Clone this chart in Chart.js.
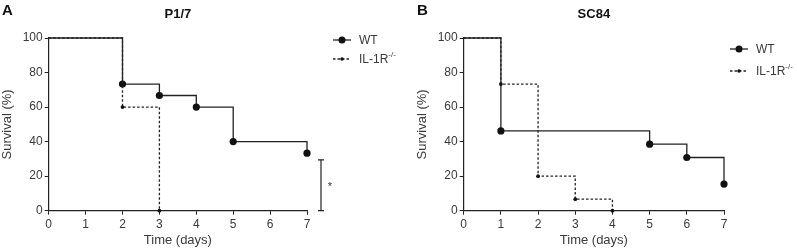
<!DOCTYPE html>
<html>
<head>
<meta charset="utf-8">
<script src="https://cdn.jsdelivr.net/npm/chart.js@4.4.1/dist/chart.umd.min.js"></script>
<style>
  body { margin: 0; background: #fff; }
  .panel { position: absolute; top: 0; height: 251px; }
</style>
</head>
<body>
<div class="panel" style="left:0;width:400px"><canvas id="chartA"></canvas></div>
<div class="panel" style="left:400px;width:397px"><canvas id="chartB"></canvas></div>
<script>
// Kaplan-Meier survival, %
var seriesNames = ["WT", "IL-1R"];

// panel A - P1/7
var p17WtDays = [0, 2, 3, 4, 5, 7];
var p17WtSurv = [100, 73.3, 66.7, 60, 40, 33.3];
var p17KoDays = [0, 2, 3];
var p17KoSurv = [100, 60, 0];

// panel B - SC84
var sc84WtDays = [0, 1, 5, 6, 7];
var sc84WtSurv = [100, 46.2, 38.5, 30.8, 15.4];
var sc84KoDays = [0, 1, 2, 3, 4];
var sc84KoSurv = [100, 73.3, 20, 6.7, 0];

var FONT = "'Liberation Sans', Arial, sans-serif";
var INK = "#222";
var TXT = "#3a3a3a";

function pts(xs, ys) {
  var out = [];
  for (var i = 0; i < xs.length; i++) out.push({x: xs[i], y: ys[i]});
  return out;
}

// titles, panel letters, legend and the significance bar
var decoPlugin = {
  id: "deco",
  afterDraw: function(chart, args, o) {
    var ctx = chart.ctx, area = chart.chartArea;
    ctx.save();
    ctx.fillStyle = "#111";
    ctx.textBaseline = "alphabetic";
    ctx.font = "bold 15px " + FONT;
    ctx.textAlign = "left";
    ctx.fillText(o.letter, o.letterX, 15);
    ctx.font = "bold 13px " + FONT;
    ctx.textAlign = "center";
    ctx.fillText(o.title, (area.left + area.right) / 2, 18);

    // legend
    var rows = [{solid: true, r: 3.5}, {solid: false, r: 1.8}];
    for (var i = 0; i < 2; i++) {
      var y = o.legY[i];
      ctx.strokeStyle = INK;
      ctx.lineWidth = 1.3;
      ctx.setLineDash(rows[i].solid ? [] : [2.5, 2]);
      ctx.beginPath();
      ctx.moveTo(o.legX, y);
      ctx.lineTo(o.legX + 18, y);
      ctx.stroke();
      ctx.setLineDash([]);
      ctx.fillStyle = "#111";
      ctx.beginPath();
      ctx.arc(o.legX + 9, y, rows[i].r, 0, Math.PI * 2);
      ctx.fill();
      ctx.fillStyle = TXT;
      ctx.font = "12px " + FONT;
      ctx.textAlign = "left";
      ctx.textBaseline = "middle";
      ctx.fillText(seriesNames[i], o.legX + 26, y + 1);
      if (i === 1) {
        var w = ctx.measureText(seriesNames[i]).width;
        ctx.font = "8px " + FONT;
        ctx.fillText("-/-", o.legX + 26 + w, y - 4);
      }
    }

    // significance bracket
    if (o.sig) {
      var ys = chart.scales.y;
      var x = area.right + 14;
      var y0 = ys.getPixelForValue(o.sig[0]) + 1, y1 = ys.getPixelForValue(o.sig[1]);
      ctx.strokeStyle = INK;
      ctx.lineWidth = 1.2;
      ctx.beginPath();
      ctx.moveTo(x, y0); ctx.lineTo(x, y1);
      ctx.moveTo(x - 3, y0); ctx.lineTo(x + 3, y0);
      ctx.moveTo(x - 3, y1); ctx.lineTo(x + 3, y1);
      ctx.stroke();
      ctx.fillStyle = TXT;
      ctx.font = "11px " + FONT;
      ctx.textAlign = "center";
      ctx.textBaseline = "middle";
      ctx.fillText("*", x + 9, (y0 + y1) / 2 + 2);
    }
    ctx.restore();
  }
};

function makeChart(id, wt, ko, padLeft, padRight, deco) {
  var big = function(c) { return c.dataIndex === 0 ? 0 : 3.6; };
  var small = function(c) { return c.dataIndex === 0 ? 0 : 1.9; };
  return new Chart(document.getElementById(id), {
    type: "line",
    data: {
      datasets: [
        {label: seriesNames[1], data: ko, stepped: true, borderColor: INK, borderWidth: 1.3,
         borderDash: [2.5, 2], pointRadius: small, pointBackgroundColor: "#111",
         pointBorderWidth: 0, clip: false},
        {label: seriesNames[0], data: wt, stepped: true, borderColor: INK, borderWidth: 1.3,
         pointRadius: big, pointBackgroundColor: "#111", pointBorderWidth: 0, clip: false}
      ]
    },
    plugins: [decoPlugin],
    options: {
      responsive: true,
      maintainAspectRatio: false,
      animation: false,
      layout: {padding: {left: padLeft, right: padRight, top: 38, bottom: 0}},
      plugins: {
        legend: {display: false},
        tooltip: {enabled: false},
        deco: deco
      },
      scales: {
        x: {
          type: "linear", min: 0, max: 7,
          afterFit: function(s) { s.height = 40.3; },
          ticks: {stepSize: 1, color: TXT, font: {family: FONT, size: 12}, padding: 3},
          grid: {drawOnChartArea: false, drawTicks: true, tickLength: 4, tickColor: INK},
          border: {display: true, color: INK, width: 1.2},
          title: {display: true, text: "Time (days)", color: TXT,
                  font: {family: FONT, size: 13}, padding: {top: 0, bottom: 3}}
        },
        y: {
          min: 0, max: 100,
          afterFit: function(s) { s.width = 48.7; },
          ticks: {stepSize: 20, color: TXT, font: {family: FONT, size: 12}, padding: 2},
          grid: {drawOnChartArea: false, drawTicks: true, tickLength: 4, tickColor: INK},
          border: {display: true, color: INK, width: 1.2},
          title: {display: true, text: "Survival (%)", color: TXT,
                  font: {family: FONT, size: 13}, padding: {top: 0, bottom: 0}}
        }
      }
    }
  });
}

makeChart("chartA", pts(p17WtDays, p17WtSurv), pts(p17KoDays, p17KoSurv), 0, 93,
  {letter: "A", letterX: 2, title: "P1/7", legX: 333, legY: [40, 59], sig: [30, 0]});
makeChart("chartB", pts(sc84WtDays, sc84WtSurv), pts(sc84KoDays, sc84KoSurv), 15, 73,
  {letter: "B", letterX: 17, title: "SC84", legX: 330, legY: [49, 71], sig: null});
</script>
</body>
</html>
